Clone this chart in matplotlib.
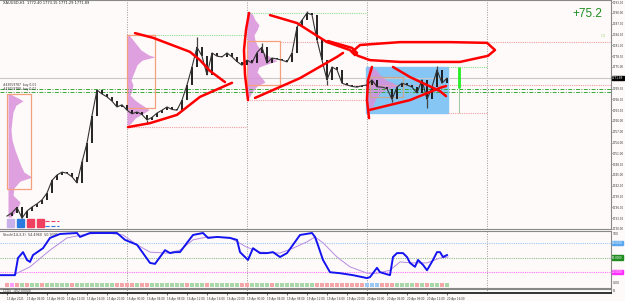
import numpy as np
import matplotlib.pyplot as plt
from matplotlib.patches import Rectangle
from matplotlib.transforms import blended_transform_factory

# -------------------------------
# XAUUSD H1 closes, hour 0 = 15 Apr 00:00
# -------------------------------
close = [1733.6, 1734.5, 1736.0, 1733.0, 1735.0, 1736.1, 1737.0, 1738.1, 1740.0, 1743.5,
         1745.0, 1745.8, 1745.5, 1744.5, 1742.8, 1748.6, 1753.9, 1761.5, 1768.6, 1767.5,
         1766.7, 1765.5, 1763.9, 1764.5, 1763.0, 1762.0, 1762.5, 1761.8, 1760.3, 1761.0,
         1762.2, 1763.0, 1763.9, 1763.2, 1763.0, 1765.8, 1770.0, 1775.0, 1780.5, 1778.0,
         1772.8, 1778.9, 1778.0, 1777.8, 1778.9, 1777.8, 1776.5, 1775.5, 1776.9, 1776.1,
         1779.0, 1780.5, 1776.1, 1777.5, 1777.2, 1776.9, 1776.4, 1778.9, 1786.1, 1788.0,
         1790.0, 1789.5, 1782.5, 1776.9, 1771.4, 1775.0, 1774.2, 1770.5, 1770.0, 1769.6,
         1769.4, 1769.8, 1770.0, 1771.4, 1769.5, 1769.4, 1769.0, 1766.0, 1769.4, 1770.5,
         1770.0, 1769.4, 1767.8, 1771.4, 1766.0, 1769.4, 1774.2, 1770.5, 1771.9]
wick_hours = [3, 15, 28, 38, 51, 60, 64, 77, 84, 86]
wick_ends = [1731.7, 1749.5, 1759.3, 1783.3, 1781.7, 1790.5, 1770.0, 1765.3, 1763.6, 1775.3]
bid = 1771.89

day_starts = [24, 48, 72, 96]
label_hours = list(range(0, 92, 4))
date_labels = ["15 Apr 2021", "15 Apr 04:00", "15 Apr 08:00", "15 Apr 12:00", "15 Apr 16:00", "15 Apr 20:00",
               "16 Apr 00:00", "16 Apr 04:00", "16 Apr 08:00", "16 Apr 12:00", "16 Apr 16:00", "16 Apr 20:00",
               "19 Apr 00:00", "19 Apr 04:00", "19 Apr 08:00", "19 Apr 12:00", "19 Apr 16:00", "19 Apr 20:00",
               "20 Apr 00:00", "20 Apr 04:00", "20 Apr 08:00", "20 Apr 12:00", "20 Apr 16:00"]
price_ticks = np.arange(1730, 1794, 3)

# volume profiles: price levels and widths in bars
prof0_levels = [1767.5, 1766.4, 1765.6, 1764.4, 1762.5, 1760.3, 1757.5, 1754.7, 1751.9, 1749.7,
                1747.5, 1745.8, 1744.4, 1743.3, 1741.4, 1739.4, 1737.5, 1736.1, 1734.7, 1733.3]
prof0_widths = [0.4, 2.0, 3.0, 1.6, 1.0, 0.8, 0.6, 0.8, 1.4, 2.0, 2.6, 3.2, 4.8, 2.4, 1.2, 1.0, 2.4, 2.0, 1.4, 0.6]
prof1_levels = [1783.9, 1782.5, 1781.1, 1779.7, 1778.3, 1777.8, 1776.9, 1775.6, 1774.2, 1772.8, 1771.4,
                1770.0, 1768.6, 1767.2, 1765.8, 1765.0, 1763.9, 1763.1, 1761.9, 1760.8, 1759.7, 1758.9]
prof1_widths = [0.4, 1.2, 2.0, 2.8, 4.4, 5.6, 3.0, 2.0, 1.6, 1.2, 0.8, 1.2, 1.0, 0.6, 1.6, 2.4, 3.6, 4.4, 3.0, 1.6, 1.0, 0.4]
prof2_levels = [1790.3, 1789.4, 1788.1, 1786.7, 1785.3, 1783.9, 1782.5, 1781.1, 1779.7, 1778.3,
                1777.5, 1776.7, 1775.8, 1775.0, 1773.6, 1771.9, 1770.8, 1769.7, 1768.1, 1766.4]
prof2_widths = [0.6, 1.2, 1.6, 2.4, 2.0, 1.4, 1.6, 2.0, 2.8, 4.0, 5.0, 6.0, 4.0, 2.4, 2.0, 3.0, 3.6, 2.0, 1.0, 0.4]
prof3_levels = [1775.0, 1774.2, 1772.8, 1771.4, 1770.6, 1769.7, 1768.9, 1767.8, 1766.4, 1764.4, 1763.1, 1762.2]
prof3_widths = [0.4, 1.6, 2.4, 3.6, 5.0, 6.0, 4.0, 2.4, 1.6, 1.0, 0.6, 0.2]
profile_starts = [0.2, 24.0, 48.0, 72.2]

# value-area boxes: hour0, hour1, price0, price1
va_boxes = [(0.0, 4.8, 1741.1, 1767.5), (24.0, 29.6, 1763.6, 1783.9),
            (48.0, 54.6, 1770.0, 1782.2), (72.6, 79.2, 1766.7, 1772.2)]
green_levels = [(1783.9, 24, 48), (1790.0, 48, 72), (1775.0, 88.2, 96.0)]
salmon_levels = [(1758.3, 24, 48), (1781.9, 54.6, 121), (1770.0, 48, 121),
                 (1765.8, 48, 72), (1762.2, 88.2, 96.0)]
pivot_levels = [1768.9, 1768.05]
range_box = (71.8, 88.2, 1762.2, 1775.0)

# hand-drawn red annotations (hour, price)
red_paths = [
    ([25.6, 29.2, 36.6, 38.6, 40.6, 43.6], [1784.4, 1783.1, 1779.2, 1776.9, 1773.9, 1770.8]),
    ([24.2, 28.6, 34.0, 38.6, 45.0], [1758.3, 1759.4, 1761.7, 1766.7, 1770.6]),
    ([48.4, 47.8, 47.4, 47.6, 48.2], [1790.0, 1785.3, 1779.7, 1772.8, 1765.8]),
    ([52.6, 58.0, 64.0, 68.6, 69.6], [1789.4, 1787.2, 1781.9, 1779.7, 1778.3]),
    ([64.2, 69.0, 70.0], [1782.2, 1780.3, 1778.9]),
    ([49.6, 58.6, 66.0, 67.2], [1766.4, 1771.9, 1777.8, 1778.9]),
    ([69.0, 70.6, 78.6, 88.6, 96.0, 97.6, 96.2, 90.6, 78.6, 72.6, 70.2, 69.0],
     [1779.2, 1781.1, 1781.9, 1781.9, 1781.7, 1779.7, 1778.1, 1776.4, 1776.4, 1776.9, 1778.1, 1779.2]),
    ([73.0, 72.2, 72.0, 72.4], [1775.0, 1771.4, 1765.8, 1760.8]),
    ([77.2, 80.6, 86.6, 87.8], [1775.0, 1772.2, 1768.3, 1766.9]),
    ([72.6, 80.6, 86.6, 87.8], [1763.1, 1765.8, 1769.2, 1769.7]),
]

# oscillator (0-100)
k_hours = [-1.4, 1.2, 1.6, 2.2, 3.2, 4.0, 4.6, 5.2, 7.2, 8.6, 10.6, 14.0, 14.6, 16.6, 21.2, 22.0, 23.6,
           26.0, 27.2, 28.6, 29.6, 30.6, 31.6, 32.6, 33.6, 34.6, 36.0, 37.2, 39.2, 40.2, 42.0, 44.6,
           46.0, 46.6, 48.2, 49.2, 50.6, 52.0, 53.2, 54.6, 56.0, 57.2, 58.6, 61.0, 61.6, 62.2, 63.2,
           64.6, 66.6, 69.2, 72.0, 72.6, 74.0, 74.6, 76.6, 77.2, 78.0, 79.2, 80.0, 80.6, 81.6, 82.2,
           83.2, 84.0, 85.2, 86.0, 86.6, 87.2, 88.0]
k_values = [14, 14, 14, 49, 61, 45, 41, 55, 69, 90, 98, 100, 92, 100, 100, 100, 86, 76, 59, 39,
            37, 51, 65, 59, 61, 61, 80, 96, 100, 90, 92, 90, 86, 61, 45, 69, 59, 59, 61, 51,
            59, 76, 96, 100, 92, 75, 45, 20, 18, 14, 8, 10, 29, 20, 14, 51, 59, 59, 51, 39,
            31, 45, 35, 24, 45, 61, 61, 51, 55]
d_hours = [1.2, 4.6, 8.6, 12.0, 16.0, 20.0, 23.2, 26.0, 28.6, 32.0, 34.6, 37.2, 40.0, 44.6, 48.0, 50.6,
           54.6, 57.2, 60.0, 61.6, 63.2, 66.0, 68.6, 72.0, 74.0, 76.6, 78.6, 81.2, 84.0, 86.6, 88.2]
d_values = [14, 31, 65, 90, 98, 100, 96, 76, 61, 59, 65, 86, 92, 90, 71, 61,
            59, 69, 82, 92, 80, 51, 31, 18, 18, 24, 41, 39, 39, 49, 51]
osc_levels = [80, 50, 20]
strip = ("rmrgrggrgg" "gggrgggggg" "ggrrrrgrrg" "ggggggrggg" "rggggggrrg"
         "gggrgggggg" "ggrrrrrrrr" "rrbbbrrrgg" "ggrgrggrg")

# -------------------------------
# Figure
# -------------------------------
W, H = 625, 301
bg = '#fffafa'


def box(l, t, r, b):
    return [l / W, 1 - b / H, (r - l) / W, (b - t) / H]


fig = plt.figure(figsize=(6.25, 3.01), dpi=100)
fig.patch.set_facecolor(bg)
ax = fig.add_axes(box(0, 0, 611, 229))
ind = fig.add_axes(box(0, 231, 611, 288))
mini = fig.add_axes(box(0, 289, 611, 293))

xlim = (-1.4, 120.8)
for a in (ax, ind, mini):
    a.set_facecolor(bg)
    a.set_xlim(*xlim)
    for s in a.spines.values():
        s.set_color('#888888')
        s.set_linewidth(0.8)
    a.spines['left'].set_visible(False)
    for d in day_starts:
        a.axvline(d, color='#999999', lw=0.7, ls=(0, (1, 1.5)), zorder=1)

ax.set_ylim(1730.0, 1793.6)

# range box
h0, h1, p0, p1 = range_box
ax.add_patch(Rectangle((h0, p0), h1 - h0, p1 - p0, color='#86c6f4', zorder=2))

# volume profiles
profiles = [(prof0_levels, prof0_widths), (prof1_levels, prof1_widths),
            (prof2_levels, prof2_widths), (prof3_levels, prof3_widths)]
for start, (lv, wd) in zip(profile_starts, profiles):
    lv = np.array(lv)
    wd = np.array(wd)
    ax.fill_betweenx(lv, start, start + wd, color='#d990d9', alpha=0.85, lw=0, zorder=3)

for h0, h1, p0, p1 in va_boxes[:3]:
    ax.add_patch(Rectangle((h0, p0), h1 - h0, p1 - p0, fill=False, ec='#f4a07c', lw=0.9, zorder=4))
h0, h1, p0, p1 = va_boxes[3]
ax.add_patch(Rectangle((h0, p0), h1 - h0, p1 - p0, fill=False, ec='#c8a890', lw=0.9, zorder=4))

# levels
for p, a0, a1 in green_levels:
    ax.hlines(p, a0, a1, color='#8fe08f', lw=0.8, ls=(0, (1, 1)), zorder=3)
for p, a0, a1 in salmon_levels:
    ax.hlines(p, a0, a1, color='#f0a0a0', lw=0.8, ls=(0, (1, 1)), zorder=3)
for p in pivot_levels:
    ax.axhline(p, color='#3aa83a', lw=0.7, ls=(0, (4, 1.5, 1, 1.5)), zorder=3)
ax.axhline(bid, color='#c8c8c8', lw=0.8, zorder=2)

# price bars
hours = np.arange(len(close))
prev = np.r_[close[0], close[:-1]]
ax.vlines(hours, np.minimum(prev, close), np.maximum(prev, close), color='#111111', lw=1.3, zorder=5)
ax.plot(hours, close, color='#333333', lw=0.8, zorder=5)
ax.vlines(wick_hours, [close[i] for i in wick_hours], wick_ends, color='#444444', lw=0.9, zorder=5)

# red annotations
for xs, ys in red_paths:
    ax.plot(xs, ys, color='#ff0000', lw=1.8, solid_capstyle='round', zorder=6)

# current-bar marker
ax.vlines(90.3, 1762.2, 1775.0, color='#8fbf8f', lw=0.6, zorder=5)
ax.vlines(90.3, 1769.2, 1775.0, color='#22ee22', lw=2.0, zorder=6)

# right price axis
ax.yaxis.tick_right()
ax.set_yticks(price_ticks)
ax.set_yticklabels([f"{v:.2f}" for v in price_ticks])
ax.tick_params(axis='y', labelsize=2.0, length=1.0, width=0.5, pad=0.3, colors='#333333')
ax.set_xticks([])
trans = blended_transform_factory(ax.transAxes, ax.transData)
ax.text(1.002, bid, f"{bid:.2f}", transform=trans, fontsize=2.0, color='white', va='center',
        ha='left', bbox=dict(boxstyle='square,pad=0.1', fc='black', ec='black'), zorder=10)

# texts
ax.text(0.005, 0.995, "XAUUSD,H1  1772.40 1773.15 1771.29 1771.89", transform=ax.transAxes,
        fontsize=2.6, va='top', ha='left', color='#222222')
ax.text(0.961, 0.939, "+75.2", transform=ax.transAxes, fontsize=8.5, family='Liberation Sans',
        color='#1e8c1e', ha='center', va='center')
ax.text(0.987, 0.843, "D1", transform=ax.transAxes, fontsize=2.8, color='#b8dc98', ha='center', va='center')
ax.text(0.005, 0.62, "#43059787  buy 0.01\n#43059788  buy 0.01", transform=ax.transAxes,
        fontsize=2.2, va='center', ha='left', color='#333333', linespacing=0.9)

# toolbar icons bottom-left
icon_cols = ['#c8b0e8', '#2a7ae0', '#f04060', '#f04060']
for i, c in enumerate(icon_cols):
    ax.add_patch(Rectangle(((7 + i * 10) / 611, 0.01), 7 / 611, 0.032, transform=ax.transAxes,
                           color=c, zorder=7))
ax.plot([0.074, 0.097], [0.035, 0.035], transform=ax.transAxes, color='#f04060', lw=0.8, ls='--')
ax.plot([0.074, 0.097], [0.015, 0.015], transform=ax.transAxes, color='#2a7ae0', lw=0.8, ls='--')

# -------------------------------
# Oscillator panel
# -------------------------------
ind.set_ylim(-12.2, 104.1)
lv_cols = ['#9cc8f4', '#8fbc8f', '#ff70ff']
box_cols = ['#5aa8f0', '#1e8c1e', '#ff30ff']
tr = blended_transform_factory(ind.transAxes, ind.transData)
for v, c, bc in zip(osc_levels, lv_cols, box_cols):
    ind.axhline(v, color=c, lw=0.8, ls=(0, (1, 1)), zorder=2)
    ind.text(1.002, v, f"{v:.4f}", transform=tr, fontsize=2.0, color='white', va='center', ha='left',
             bbox=dict(boxstyle='square,pad=0.1', fc=bc, ec=bc))
ind.plot(d_hours, d_values, color='#b58be0', lw=0.7, zorder=3)
ind.plot(k_hours, k_values, color='#1414f0', lw=1.4, zorder=4)
strip_cols = {'g': '#a8d8a8', 'r': '#f4a6a6', 'm': '#ff9cff', 'b': '#9cc8f4'}
for i, s in enumerate(strip):
    ind.add_patch(Rectangle((i - 0.4, -10.5), 0.8, 8, color=strip_cols[s], lw=0, zorder=3))
ind.yaxis.tick_right()
ind.set_yticks([100, 0])
ind.set_yticklabels(["100", "0.00"])
ind.tick_params(axis='y', labelsize=2.2, length=0, pad=1, colors='#333333')
ind.set_xticks([])
ind.text(0.005, 0.97, "Stoch(14,3,3)  54.4960  50.9395", transform=ind.transAxes,
         fontsize=2.4, va='top', ha='left', color='#333333')

# -------------------------------
# Mini panel + time axis
# -------------------------------
mini.set_ylim(0, 1)
mini.set_yticks([0.5])
mini.set_yticklabels(["0"])
mini.yaxis.tick_right()
mini.tick_params(axis='y', labelsize=2.2, length=0, pad=1)
mini.spines['bottom'].set_color('#111111')
mini.spines['bottom'].set_linewidth(1.2)
mini.text(0.005, 0.5, "CCDx  -452.00000", transform=mini.transAxes, fontsize=2.2,
          va='center', ha='left', color='#333333')
mini.set_xticks(label_hours)
mini.set_xticklabels(date_labels, ha='left')
mini.tick_params(axis='x', labelsize=2.0, length=1.5, width=0.5, pad=1.2, colors='#333333')

fig.savefig("out.png", dpi=100, facecolor=bg)
